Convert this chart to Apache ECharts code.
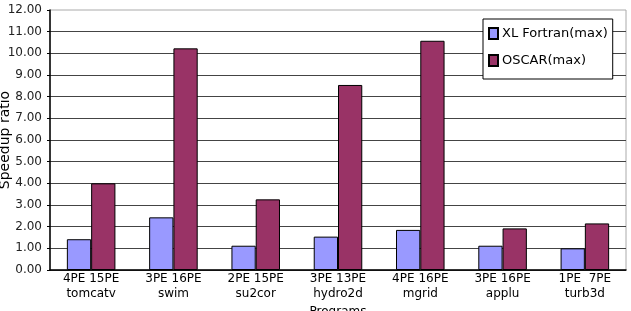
<!DOCTYPE html>
<html>
<head>
<meta charset="utf-8">
<script src="https://cdn.jsdelivr.net/npm/echarts@6/dist/echarts.min.js"></script>
<style>
  html, body { margin: 0; padding: 0; background: #fff; }
  #chart { width: 631px; height: 311px; }
</style>
</head>
<body>
<div id="chart"></div>
<script>
const programs = ['tomcatv', 'swim', 'su2cor', 'hydro2d', 'mgrid', 'applu', 'turb3d'];
const peLabels = ['4PE 15PE', '3PE 16PE', '2PE 15PE', '3PE 13PE', '4PE 16PE', '3PE 16PE', '1PE  7PE'];
const xlFortran = [1.42, 2.43, 1.12, 1.54, 1.85, 1.12, 1.0];
const oscar = [4.0, 10.23, 3.26, 8.54, 10.58, 1.92, 2.15];

const chart = echarts.init(document.getElementById('chart'));
const font = 'DejaVu Sans';

let option = {
  animation: false,
  textStyle: { fontFamily: font },
  grid: {
    left: 50, right: 5, top: 10, bottom: 41,
    outerBoundsMode: 'none',
    containLabel: false,
    show: true, borderColor: '#aaa', borderWidth: 1
  },
  legend: {
    orient: 'vertical',
    left: 483,
    top: 19,
    padding: [8, 5, 12, 5],
    itemGap: 14,
    itemWidth: 9,
    itemHeight: 11,
    borderColor: '#000',
    borderWidth: 1,
    backgroundColor: '#fff',
    icon: 'rect',
    textStyle: { fontFamily: font, fontSize: 13, color: '#000', padding: [0, 0, 0, -1] },
    data: ['XL Fortran(max)', 'OSCAR(max)']
  },
  xAxis: {
    type: 'category',
    data: programs.map((p, i) => peLabels[i] + '\n' + p),
    name: 'Programs',
    nameLocation: 'middle',
    nameGap: 36,
    nameMoveOverlap: false,
    nameTextStyle: { fontFamily: font, fontSize: 12, color: '#000' },
    axisLine: { lineStyle: { color: '#000', width: 1.5 } },
    axisTick: { inside: true, length: 4, lineStyle: { color: '#000' } },
    axisLabel: { fontFamily: font, fontSize: 12, color: '#000', lineHeight: 15, margin: 1 }
  },
  yAxis: {
    type: 'value',
    min: 0,
    max: 12,
    interval: 1,
    name: 'Speedup ratio',
    nameLocation: 'middle',
    nameGap: 38,
    nameMoveOverlap: false,
    nameTextStyle: { fontFamily: font, fontSize: 14, color: '#000' },
    axisLine: { show: true, lineStyle: { color: '#000', width: 1.5 } },
    axisTick: { show: true, length: 3, lineStyle: { color: '#000' } },
    axisLabel: { fontFamily: font, fontSize: 12, color: '#222', margin: 8, formatter: v => v.toFixed(2) },
    splitLine: { showMaxLine: false, lineStyle: { color: '#444', width: 1 } }
  },
  series: [
    {
      name: 'XL Fortran(max)',
      type: 'bar',
      data: xlFortran,
      barGap: '0%',
      barCategoryGap: '41%',
      itemStyle: { color: '#9999ff', borderColor: '#000', borderWidth: 1 }
    },
    {
      name: 'OSCAR(max)',
      type: 'bar',
      data: oscar,
      itemStyle: { color: '#993366', borderColor: '#000', borderWidth: 1 }
    }
  ]
};

chart.setOption(option);
window.addEventListener('resize', () => { chart.resize(); });
</script>
</body>
</html>
